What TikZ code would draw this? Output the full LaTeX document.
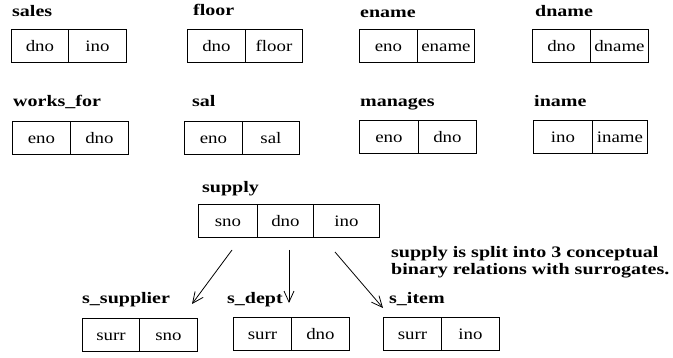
\documentclass[tikz,border=0pt]{standalone}
\usepackage{fontspec}
\setmainfont{Liberation Serif}[FakeStretch=1.18]
\newfontfamily\lblfont{Liberation Serif}[FakeStretch=1.25]
\usetikzlibrary{arrows.meta}
\begin{document}
\begin{tikzpicture}[x=1pt,y=-1pt,
  font=\fontsize{16}{18}\selectfont,
  cell/.style={draw, line width=0.9pt, minimum height=33pt, inner sep=0pt,
    anchor=north west, text height=12pt, text depth=0pt},
  lbl/.style={font=\fontsize{16}{18}\lblfont\bfseries, inner sep=0pt, anchor=base west},
  arr/.style={line width=0.8pt, -{Straight Barb[length=11pt,width=10pt,line width=0.8pt]}}]
\useasboundingbox (0,0) rectangle (673,358);
% row 1
\node[lbl] (saleslbl) at (12,17) {sales};
\node[cell, minimum width=57pt] (sales1) at (11,29) {dno};
\node[cell, minimum width=58pt] (sales2) at (68,29) {ino};
\node[lbl] (floorlbl) at (193,16) {floor};
\node[cell, minimum width=58pt] (floor1) at (187,29) {dno};
\node[cell, minimum width=57pt] (floor2) at (245,29) {floor};
\node[lbl] (enamelbl) at (360,17.5) {ename};
\node[cell, minimum width=58pt] (ename1) at (359,29) {eno};
\node[cell, minimum width=57pt] (ename2) at (417,29) {ename};
\node[lbl] (dnamelbl) at (535,16.5) {dname};
\node[cell, minimum width=58pt] (dname1) at (532,29) {dno};
\node[cell, minimum width=58pt] (dname2) at (590,29) {dname};
% row 2
\node[lbl] (wflbl) at (13,107) {works\_for};
\node[cell, minimum width=58pt] (wf1) at (12,121) {eno};
\node[cell, minimum width=58pt] (wf2) at (70,121) {dno};
\node[lbl] (sallbl) at (192,107) {sal};
\node[cell, minimum width=58pt] (sal1) at (184,121) {eno};
\node[cell, minimum width=57pt] (sal2) at (242,121) {sal};
\node[lbl] (manlbl) at (360,107) {manages};
\node[cell, minimum width=59pt] (man1) at (359,120) {eno};
\node[cell, minimum width=58pt] (man2) at (418,120) {dno};
\node[lbl] (inamelbl) at (534,107) {iname};
\node[cell, minimum width=59pt] (iname1) at (533,120) {ino};
\node[cell, minimum width=55pt] (iname2) at (592,120) {iname};
% supply
\node[lbl] (supplylbl) at (202,193) {supply};
\node[cell, minimum width=59pt] (sup1) at (198,204) {sno};
\node[cell, minimum width=56pt] (sup2) at (257,204) {dno};
\node[cell, minimum width=66pt] (sup3) at (313,204) {ino};
% note
\node[lbl] (note1) at (391,257.5) {supply is split into 3 conceptual};
\node[lbl] (note2) at (391,274.5) {binary relations with surrogates.};
% bottom
\node[lbl] (sslbl) at (82,304) {s\_supplier};
\node[cell, minimum width=57pt] (ss1) at (82,318) {surr};
\node[cell, minimum width=58pt] (ss2) at (139,318) {sno};
\node[lbl] (sdlbl) at (227,304) {s\_dept};
\node[cell, minimum width=58pt] (sd1) at (233,317) {surr};
\node[cell, minimum width=58pt] (sd2) at (291,317) {dno};
\node[lbl] (silbl) at (389,304) {s\_item};
\node[cell, minimum width=58pt] (si1) at (383,317) {surr};
\node[cell, minimum width=58pt] (si2) at (441,317) {ino};
% arrows
\coordinate (a1s) at (232,250);
\coordinate (a1e) at (192,304);
\coordinate (a2s) at (289,250);
\coordinate (a2e) at (289,303);
\coordinate (a3s) at (335,252);
\coordinate (a3e) at (383,308);
\draw[arr] (a1s) -- (a1e);
\draw[arr] (a2s) -- (a2e);
\draw[arr] (a3s) -- (a3e);
\end{tikzpicture}
\end{document}
